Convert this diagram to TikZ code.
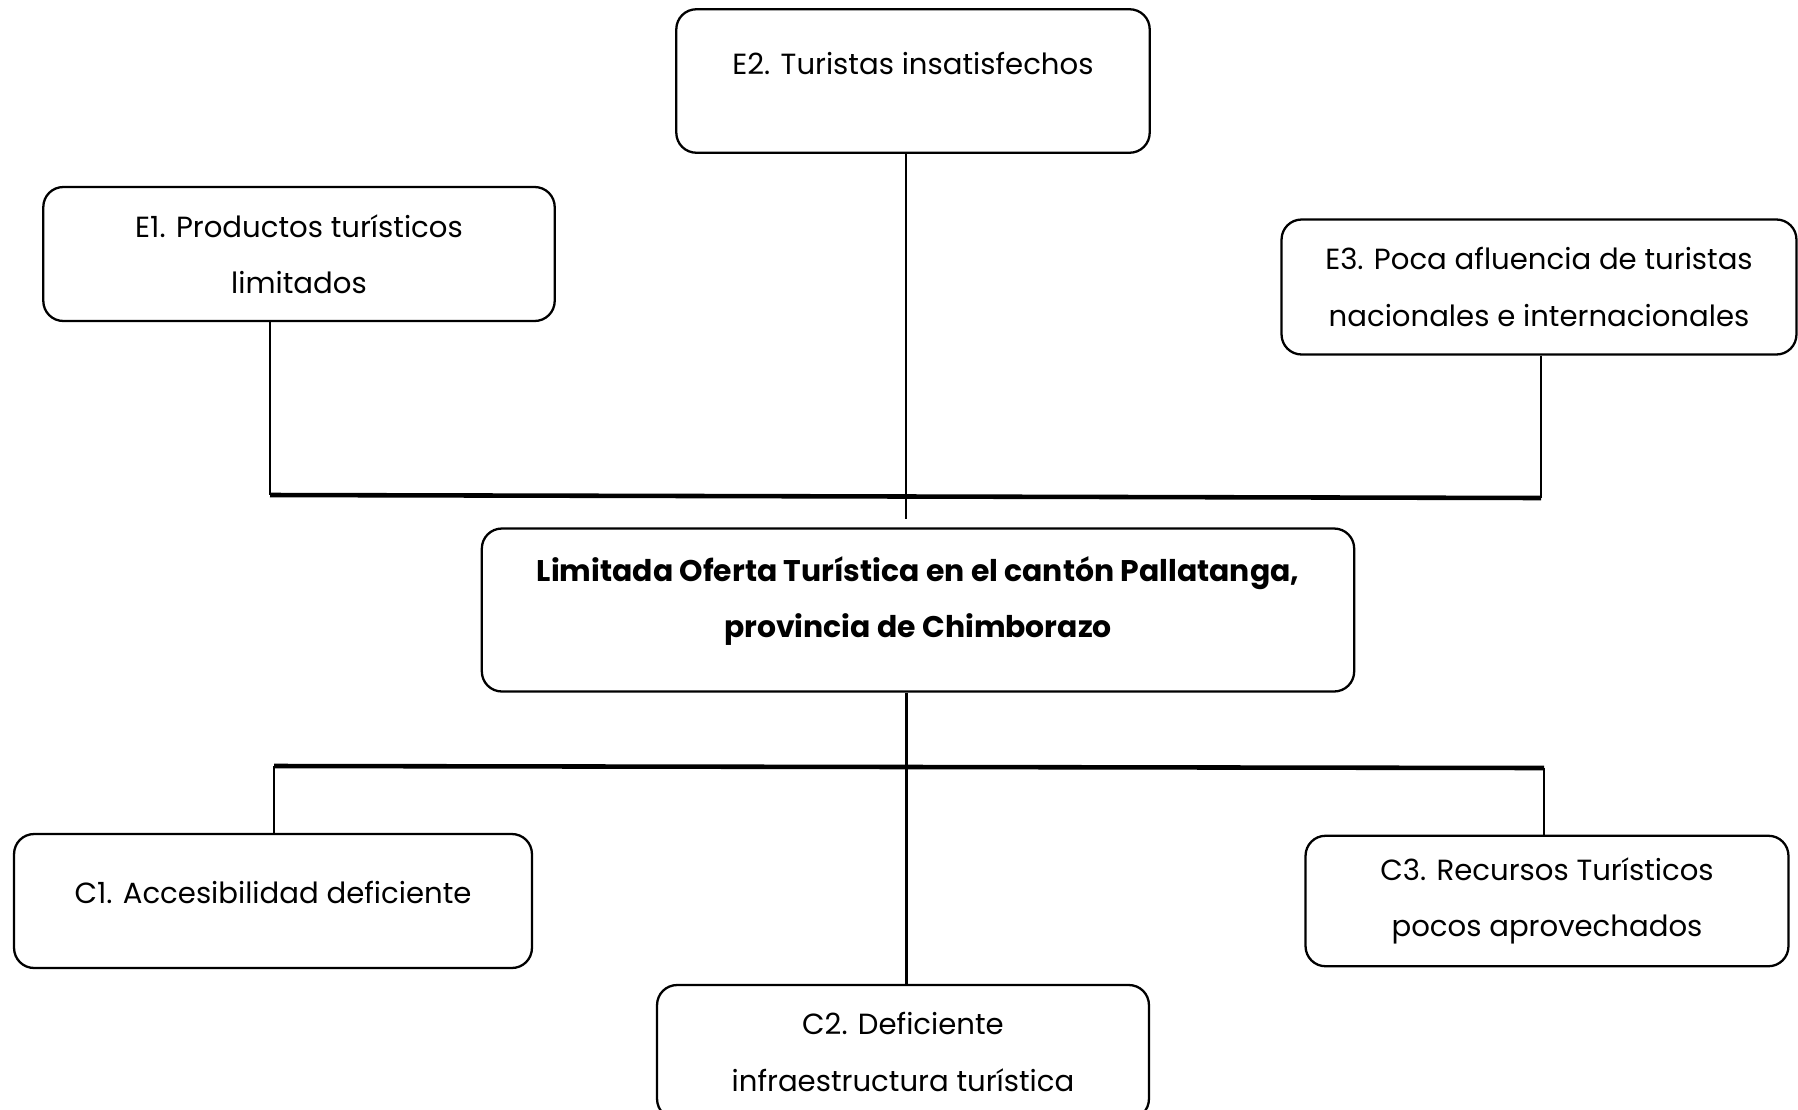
\documentclass[tikz,border=0pt]{standalone}
\usepackage{fontspec}
\setmainfont{Poppins}
\usepackage{tikz}

\begin{document}
\begin{tikzpicture}[x=0.02cm,y=-0.02cm]
\tikzstyle{every node}+=[inner sep=0pt]
\tikzstyle{box}=[draw=black, line width=1.3pt, rounded corners=0.4cm]
\tikzstyle{txt}=[align=center, font=\fontsize{16.6pt}{32pt}\selectfont]
\useasboundingbox (0,0) rectangle (1798,1109);
% effects
\node (E2) [box, minimum width=9.47cm, minimum height=2.87cm] at (913,81) {};
\node (E2t) [txt] at (913,63) {E2. Turistas insatisfechos};
\node (E1) [box, txt, minimum width=10.23cm, minimum height=2.68cm] at (299,254) {E1. Productos turísticos\\limitados};
\node (E3) [box, txt, minimum width=10.3cm, minimum height=2.7cm] at (1539,287) {E3. Poca afluencia de turistas\\nacionales e internacionales};
% problem
\node (P) [box, minimum width=17.45cm, minimum height=3.26cm] at (918,610) {};
\node (Pt) [txt, font=\fontsize{17pt}{32pt}\selectfont\bfseries] at (918,601) {Limitada Oferta Turística en el cantón Pallatanga,\\provincia de Chimborazo};
% causes
\node (C1) [box, minimum width=10.36cm, minimum height=2.68cm] at (273,901) {};
\node (C1t) [txt] at (273,892) {C1. Accesibilidad deficiente};
\node (C2) [box, txt, minimum width=9.84cm, minimum height=2.68cm] at (903,1052) {C2. Deficiente\\infraestructura turística};
\node (C3) [box, txt, minimum width=9.66cm, minimum height=2.61cm] at (1547,901) {C3. Recursos Turísticos\\pocos aprovechados};
% bars
\coordinate (ta) at (270,495);
\coordinate (tb) at (1541,498);
\coordinate (ba) at (274,766);
\coordinate (bb) at (1544,768);
\coordinate (e2e) at (906,519);
\draw [black, line width=2.6pt] (ta) -- (tb);
\draw [black, line width=2.6pt] (ba) -- (bb);
\draw [black, line width=1.5pt] (E1.south -| ta) -- (ta);
\draw [black, line width=1.5pt] (E3.south -| tb) -- (tb);
\draw [black, line width=0.9pt] (E2.south -| e2e) -- (e2e);
\draw [black, line width=1.7pt] (P.south -| e2e) -- (C2.north -| e2e);
\draw [black, line width=1.5pt] (ba) -- (C1.north -| ba);
\draw [black, line width=1.5pt] (bb) -- (C3.north -| bb);
\end{tikzpicture}
\end{document}
